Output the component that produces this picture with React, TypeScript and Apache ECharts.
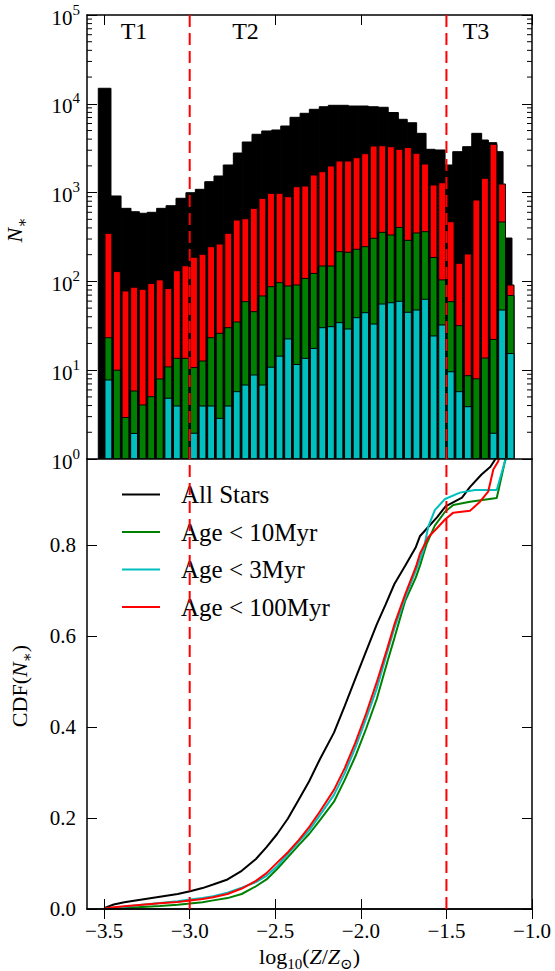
import React, { useEffect, useRef } from 'react';
import * as echarts from 'echarts';

const FONT = '"Liberation Serif", "DejaVu Serif", serif';

const xRange = [-3.6, -1.0];
const xTickValues = [-3.5, -3.0, -2.5, -2.0, -1.5, -1.0];
const cdfTickValues = [0, 0.2, 0.4, 0.6, 0.8];
const cdfMax = 0.99;
const regionSplits = [-3.0, -1.5];
const regionNames = ['T1', 'T2', 'T3'];

// All-star histogram: bin edges (log10 Z/Zsun) and counts
const allStarEdges = [
  -3.534, -3.46, -3.401, -3.343, -3.294, -3.248, -3.193, -3.138, -3.08, -3.022,
  -2.967, -2.912, -2.858, -2.804, -2.745, -2.693, -2.636, -2.579, -2.521, -2.468,
  -2.414, -2.355, -2.301, -2.243, -2.19, -2.132, -2.073, -2.015, -1.956, -1.898,
  -1.84, -1.781, -1.729, -1.674, -1.619, -1.567, -1.508, -1.463, -1.405, -1.352,
  -1.294, -1.255, -1.206, -1.169, -1.117,
];
const allStarCounts = [
  14960, 916, 665, 609, 585, 600, 665, 712, 863, 997,
  1089, 1327, 1538, 2046, 2790, 3715, 4537, 4943, 5070, 5623,
  7047, 7816, 8670, 9270, 9616, 9616, 9440, 9440, 9270, 9140,
  7980, 6690, 6120, 4650, 3073, 3020, 2046, 2890, 3290, 4650,
  3910, 3650, 2890, 308,
];

// Age-selected histograms: 48 bins of width 0.05 starting at -3.5
const ageBinStart = -3.5;
const ageBinWidth = 0.05;
const ageBarFraction = 0.8;
const age100Counts = [
  348, 129, 78, 86, 81.5, 95, 104, 83, 132, 150,
  187, 202, 246, 264, 348, 491, 508, 665, 863, 982,
  982, 899, 1165, 1187, 1578, 1719, 1995, 2269, 2269, 2472,
  2742, 3349, 3375, 3288, 3073, 3220, 2772, 2099, 1218, 1292,
  470, 160, 204, 826, 1449, 3500, 1250, 91,
];
const age10Counts = [
  23.2, 10, 2.93, 5.83, 4.06, 5.03, 7.96, 10.9, 13.6, 13.6,
  10.7, 12.7, 23.2, 26, 30.1, 34.9, 59.1, 45.6, 68.5, 87.2,
  96.7, 88.8, 91.1, 108, 123, 149, 149, 216, 213, 230,
  246, 306, 357, 333, 405, 290, 351, 363, 186, 104,
  59.1, 31.7, 8.67, 8, 13.7, 22.2, 467, 69.4,
];
const age3Counts = [
  7.76, 0, 0, 1.94, 0, 0, 0, 4.83, 3.95, 0,
  1.95, 3.95, 3.95, 2.87, 3.95, 5.73, 6.81, 8.83, 6.81, 10.8,
  14.4, 22.5, 11.6, 13.6, 17.6, 30.1, 30.9, 34.3, 29.1, 39.0,
  44.4, 33.1, 55.6, 57.5, 59.7, 44.9, 47.6, 62.9, 24.3, 32.3,
  9.6, 5.73, 3.88, 0, 0, 1.95, 47.6, 15.4,
];

// Cumulative distributions
const cdfAllStars = [
  [-3.5, 0.002], [-3.444, 0.01], [-3.382, 0.015], [-3.278, 0.021], [-3.174, 0.027],
  [-3.07, 0.033], [-2.998, 0.039], [-2.925, 0.046], [-2.863, 0.054], [-2.779, 0.065],
  [-2.696, 0.084], [-2.613, 0.11], [-2.551, 0.136], [-2.489, 0.165], [-2.426, 0.199],
  [-2.364, 0.24], [-2.302, 0.281], [-2.24, 0.329], [-2.157, 0.388], [-2.094, 0.447],
  [-2.032, 0.507], [-1.97, 0.566], [-1.907, 0.626], [-1.855, 0.67], [-1.804, 0.715],
  [-1.741, 0.755], [-1.679, 0.796], [-1.655, 0.82], [-1.617, 0.836], [-1.554, 0.862],
  [-1.505, 0.886], [-1.409, 0.905], [-1.363, 0.928], [-1.295, 0.956], [-1.243, 0.973],
  [-1.205, 0.995], [-1.19, 1.0],
];
const cdfAge10 = [
  [-3.5, 0], [-3.382, 0.002], [-3.278, 0.0045], [-3.174, 0.0067], [-3.07, 0.0096],
  [-2.998, 0.012], [-2.925, 0.015], [-2.863, 0.019], [-2.779, 0.024], [-2.696, 0.033],
  [-2.613, 0.05], [-2.551, 0.065], [-2.489, 0.088], [-2.426, 0.114], [-2.364, 0.14],
  [-2.302, 0.165], [-2.24, 0.195], [-2.157, 0.236], [-2.094, 0.284], [-2.032, 0.336],
  [-1.97, 0.396], [-1.907, 0.462], [-1.845, 0.544], [-1.804, 0.596], [-1.741, 0.678],
  [-1.679, 0.729], [-1.654, 0.756], [-1.615, 0.804], [-1.567, 0.844], [-1.508, 0.874],
  [-1.46, 0.889], [-1.362, 0.896], [-1.206, 0.904], [-1.158, 0.985], [-1.15, 1.0],
];
const cdfAge3 = [
  [-3.5, 0], [-3.382, 0.005], [-3.278, 0.0096], [-3.174, 0.013], [-3.07, 0.017],
  [-2.998, 0.021], [-2.925, 0.024], [-2.863, 0.028], [-2.779, 0.036], [-2.696, 0.047],
  [-2.613, 0.059], [-2.551, 0.073], [-2.489, 0.094], [-2.426, 0.121], [-2.364, 0.147],
  [-2.302, 0.173], [-2.24, 0.206], [-2.157, 0.251], [-2.094, 0.299], [-2.032, 0.355],
  [-1.97, 0.418], [-1.907, 0.485], [-1.845, 0.566], [-1.804, 0.618], [-1.741, 0.685],
  [-1.679, 0.744], [-1.635, 0.789], [-1.606, 0.841], [-1.567, 0.878], [-1.508, 0.902],
  [-1.421, 0.916], [-1.333, 0.922], [-1.206, 0.922], [-1.158, 0.985], [-1.14, 1.0],
];
const cdfAge100 = [
  [-3.5, 0], [-3.485, 0.002], [-3.382, 0.006], [-3.278, 0.0096], [-3.174, 0.0126],
  [-3.07, 0.0156], [-2.998, 0.0186], [-2.925, 0.022], [-2.863, 0.026], [-2.779, 0.033],
  [-2.696, 0.045], [-2.613, 0.062], [-2.551, 0.079], [-2.489, 0.102], [-2.426, 0.125],
  [-2.364, 0.151], [-2.302, 0.18], [-2.24, 0.214], [-2.157, 0.262], [-2.094, 0.31],
  [-2.032, 0.366], [-1.97, 0.429], [-1.907, 0.499], [-1.845, 0.574], [-1.804, 0.626],
  [-1.741, 0.692], [-1.679, 0.752], [-1.654, 0.782], [-1.606, 0.818], [-1.557, 0.837],
  [-1.508, 0.857], [-1.46, 0.872], [-1.362, 0.876], [-1.304, 0.896], [-1.256, 0.918],
  [-1.226, 0.967], [-1.197, 0.985], [-1.19, 1.0],
];

const legendNames = ['All Stars', 'Age < 10Myr', 'Age < 3Myr', 'Age < 100Myr'];
const COLORS = { all: '#000000', age10: '#008000', age3: '#00bfbf', age100: '#ff0000' };

const minus = (v: number) => (v < 0 ? '\u2212' : '') + Math.abs(v).toFixed(1);

function histSeries(data: number[][], color: string, z: number) {
  return {
    type: 'custom',
    xAxisIndex: 0,
    yAxisIndex: 0,
    z,
    silent: true,
    clip: true,
    encode: { x: [0, 1], y: 2 },
    data,
    renderItem: (params: any, api: any) => {
      const x0 = api.value(0);
      const x1 = api.value(1);
      const v = api.value(2);
      const p0 = api.coord([x0, v]);
      const p1 = api.coord([x1, 1]);
      return {
        type: 'rect',
        shape: { x: p0[0], y: p0[1], width: p1[0] - p0[0], height: p1[1] - p0[1] },
        style: { fill: color, stroke: '#000', lineWidth: 1 },
      };
    },
  };
}

function ageData(counts: number[]) {
  const pad = (ageBinWidth * (1 - ageBarFraction)) / 2;
  return counts
    .map((c, i) => [ageBinStart + i * ageBinWidth + pad, ageBinStart + (i + 1) * ageBinWidth - pad, c])
    .filter((d) => d[2] >= 1);
}

export default function App() {
  const ref = useRef<HTMLDivElement>(null);
  useEffect(() => {
    document.body.style.margin = '0';
    if (!ref.current) return;
    const chart = echarts.init(ref.current, undefined, { renderer: 'svg' });

    const axisLine = { show: true, lineStyle: { color: '#000', width: 1.5 } };
    const tickStyle = { color: '#000', width: 1 };
    const baseX = { type: 'value', min: xRange[0], max: xRange[1], splitLine: { show: false }, z: 10, axisLine };

    const minorTickData: number[][] = [];
    for (let k = 0; k < 5; k++) for (let m = 2; m <= 9; m++) minorTickData.push([xRange[0], m * Math.pow(10, k)]);

    const splitSeries: any[] = [];
    regionSplits.forEach((x) => {
      splitSeries.push({
        type: 'line', xAxisIndex: 0, yAxisIndex: 0, data: [[x, 1], [x, 100000]], symbol: 'none', silent: true, z: 20,
        lineStyle: { color: '#ff0000', width: 2, type: [12, 6] },
      });
      splitSeries.push({
        type: 'line', xAxisIndex: 2, yAxisIndex: 2, data: [[x, 0], [x, cdfMax]], symbol: 'none', silent: true, z: 20,
        lineStyle: { color: '#ff0000', width: 2, type: [12, 6] },
      });
    });

    const cdfLine = (name: string, data: number[][], color: string) => ({
      type: 'line', name, xAxisIndex: 2, yAxisIndex: 2, data, symbol: 'none', showSymbol: false, clip: true, z: 5,
      lineStyle: { color, width: 2 }, itemStyle: { color },
    });

    const supRich = {
      b: { fontSize: 21, fontFamily: FONT, color: '#000', lineHeight: 26, verticalAlign: 'bottom' },
      s: { fontSize: 15, fontFamily: FONT, color: '#000', lineHeight: 10, verticalAlign: 'top' },
    };

    const option: any = {
      animation: false,
      textStyle: { fontFamily: FONT, color: '#000' },
      grid: [
        { left: 87, top: 15, width: 445, height: 444 },
        { left: 87, top: 459, width: 445, height: 450 },
      ],
      xAxis: [
        { ...baseX, gridIndex: 0, position: 'bottom', axisTick: { show: false }, axisLabel: { show: false } },
        { ...baseX, gridIndex: 0, position: 'top', axisTick: { inside: true, length: 10, lineStyle: tickStyle, customValues: xTickValues }, axisLabel: { show: false } },
        {
          ...baseX, gridIndex: 1, position: 'bottom',
          axisTick: { inside: true, length: 10, lineStyle: tickStyle, customValues: xTickValues },
          axisLabel: { show: true, customValues: xTickValues, formatter: minus, fontSize: 21, fontFamily: FONT, color: '#000', margin: 11 },
        },
        { ...baseX, gridIndex: 1, position: 'top', axisTick: { inside: true, length: 10, lineStyle: tickStyle, customValues: xTickValues }, axisLabel: { show: false } },
      ],
      yAxis: [
        {
          type: 'log', logBase: 10, min: 1, max: 100000, gridIndex: 0, position: 'left', z: 10, axisLine,
          splitLine: { show: false },
          axisTick: { inside: true, length: 10, lineStyle: tickStyle },
          axisLabel: { formatter: (v: number) => `{b|10}{s|${Math.round(Math.log10(v))}}`, rich: supRich, margin: 7 },
        },
        {
          type: 'log', logBase: 10, min: 1, max: 100000, gridIndex: 0, position: 'right', z: 10, axisLine,
          splitLine: { show: false },
          axisTick: { inside: true, length: 10, lineStyle: tickStyle }, axisLabel: { show: false },
        },
        {
          type: 'value', min: 0, max: cdfMax, gridIndex: 1, position: 'left', z: 10, axisLine,
          splitLine: { show: false },
          axisTick: { inside: true, length: 10, lineStyle: tickStyle, customValues: cdfTickValues },
          axisLabel: { customValues: cdfTickValues, formatter: (v: number) => v.toFixed(1), fontSize: 21, fontFamily: FONT, color: '#000', margin: 11 },
        },
        {
          type: 'value', min: 0, max: cdfMax, gridIndex: 1, position: 'right', z: 10, axisLine,
          splitLine: { show: false },
          axisTick: { inside: true, length: 10, lineStyle: tickStyle, customValues: cdfTickValues }, axisLabel: { show: false },
        },
      ],
      legend: {
        data: legendNames,
        orient: 'vertical',
        left: 117,
        top: 477,
        icon: 'rect',
        itemWidth: 38,
        itemHeight: 2,
        itemGap: 12.5,
        selectedMode: false,
        textStyle: { fontFamily: FONT, fontSize: 25, color: '#000', lineHeight: 25, padding: [0, 0, 0, 16] },
      },
      series: [
        histSeries(allStarCounts.map((c, i) => [allStarEdges[i], allStarEdges[i + 1], c]), COLORS.all, 2),
        histSeries(ageData(age100Counts), COLORS.age100, 3),
        histSeries(ageData(age10Counts), COLORS.age10, 4),
        histSeries(ageData(age3Counts), COLORS.age3, 5),
        {
          type: 'custom', xAxisIndex: 0, yAxisIndex: 0, z: 11, silent: true, encode: { x: 0, y: 1 }, data: minorTickData,
          renderItem: (params: any, api: any) => {
            const y = api.coord([api.value(0), api.value(1)])[1];
            const cs = params.coordSys;
            const st = { stroke: '#000', lineWidth: 1 };
            return {
              type: 'group',
              children: [
                { type: 'line', shape: { x1: cs.x, y1: y, x2: cs.x + 5, y2: y }, style: st },
                { type: 'line', shape: { x1: cs.x + cs.width - 5, y1: y, x2: cs.x + cs.width, y2: y }, style: st },
              ],
            };
          },
        },
        cdfLine(legendNames[0], cdfAllStars, COLORS.all),
        cdfLine(legendNames[1], cdfAge10, COLORS.age10),
        cdfLine(legendNames[2], cdfAge3, COLORS.age3),
        cdfLine(legendNames[3], cdfAge100, COLORS.age100),
        ...splitSeries,
      ],
      graphic: [
        { type: 'text', x: 134, y: 31, style: { text: regionNames[0], fontFamily: FONT, fontSize: 24, fill: '#000', align: 'center', verticalAlign: 'middle' }, z: 30 },
        { type: 'text', x: 245.5, y: 31, style: { text: regionNames[1], fontFamily: FONT, fontSize: 24, fill: '#000', align: 'center', verticalAlign: 'middle' }, z: 30 },
        { type: 'text', x: 476, y: 31, style: { text: regionNames[2], fontFamily: FONT, fontSize: 24, fill: '#000', align: 'center', verticalAlign: 'middle' }, z: 30 },
        {
          type: 'text', x: 16, y: 230, rotation: Math.PI / 2,
          style: {
            text: '{i|N}{s|\u2217}', align: 'center', verticalAlign: 'middle',
            rich: {
              i: { fontFamily: FONT, fontStyle: 'italic', fontSize: 22, fill: '#000', lineHeight: 26, verticalAlign: 'top' },
              s: { fontFamily: FONT, fontSize: 15, fill: '#000', lineHeight: 14, verticalAlign: 'bottom' },
            },
          },
        },
        {
          type: 'text', x: 21, y: 686, rotation: Math.PI / 2,
          style: {
            text: '{n|CDF(}{i|N}{s|\u2217}{n|)}', align: 'center', verticalAlign: 'middle',
            rich: {
              n: { fontFamily: FONT, fontSize: 22, fill: '#000', lineHeight: 26, verticalAlign: 'top' },
              i: { fontFamily: FONT, fontStyle: 'italic', fontSize: 22, fill: '#000', lineHeight: 26, verticalAlign: 'top' },
              s: { fontFamily: FONT, fontSize: 15, fill: '#000', lineHeight: 14, verticalAlign: 'bottom' },
            },
          },
        },
        {
          type: 'text', x: 309.5, y: 958,
          style: {
            text: '{n|log}{s|10}{n|(}{i|Z}{n|/}{i|Z}{s|\u2299}{n|)}', align: 'center', verticalAlign: 'middle',
            rich: {
              n: { fontFamily: FONT, fontSize: 22, fill: '#000', lineHeight: 26, verticalAlign: 'top' },
              i: { fontFamily: FONT, fontStyle: 'italic', fontSize: 22, fill: '#000', lineHeight: 26, verticalAlign: 'top' },
              s: { fontFamily: FONT, fontSize: 15, fill: '#000', lineHeight: 14, verticalAlign: 'bottom' },
            },
          },
        },
      ],
    };

    chart.setOption(option);
    return () => chart.dispose();
  }, []);

  return <div ref={ref} style={{ width: 555, height: 971 }} />;
}
